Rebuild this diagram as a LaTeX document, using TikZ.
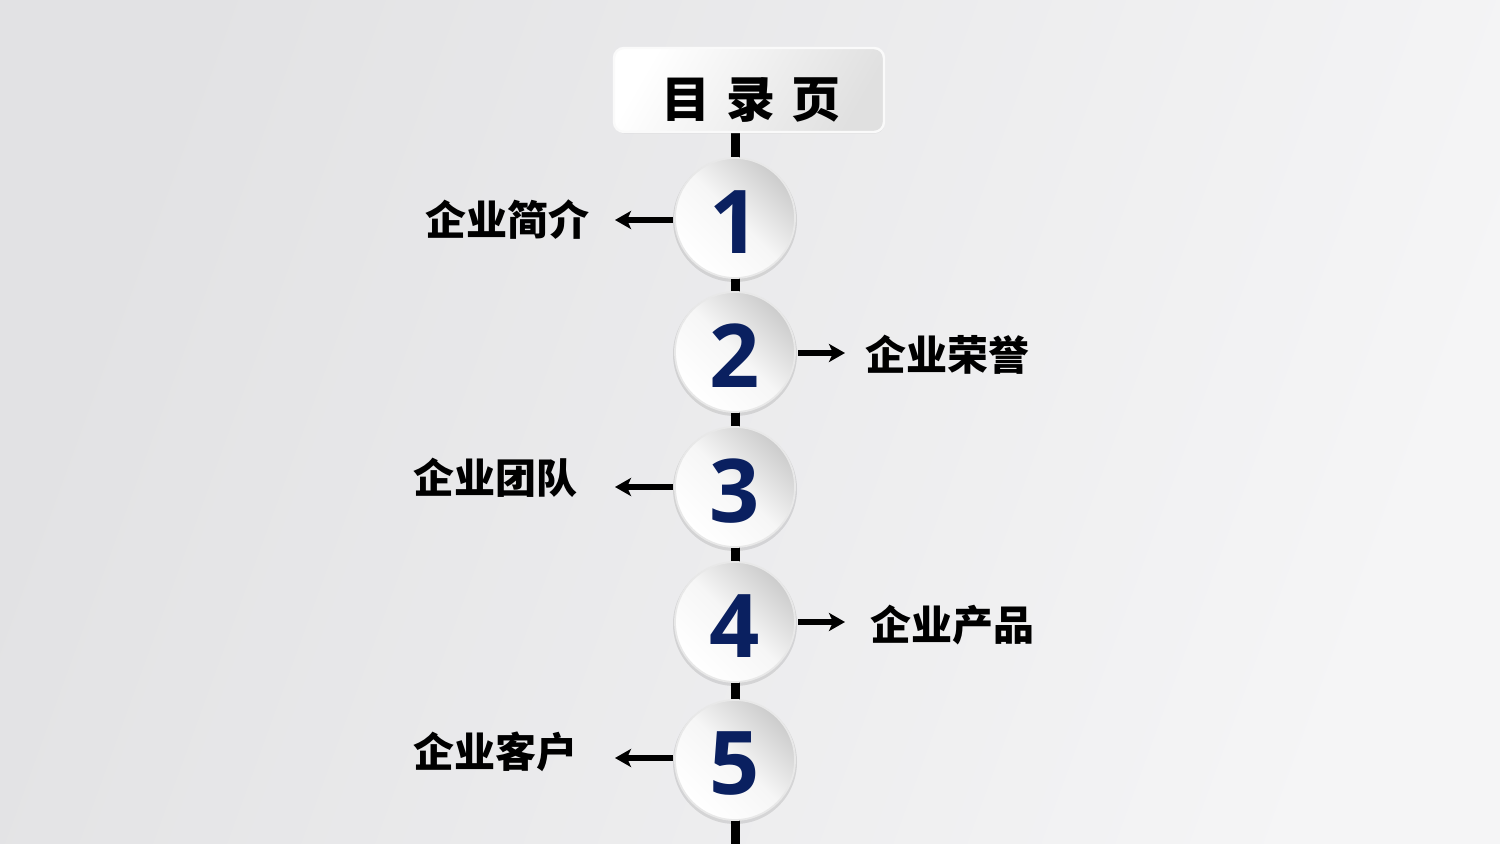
\documentclass[tikz,border=0pt]{standalone}
\usepackage{fontspec}
\newfontfamily\cjk{Noto Sans CJK SC}
\newfontfamily\numfont{Open Sans}
\usetikzlibrary{arrows.meta,shadows}
\definecolor{navy}{RGB}{10,32,96}
\definecolor{bgL}{RGB}{226,226,228}
\definecolor{bgR}{RGB}{245,245,246}
\tikzset{
  lbl/.style={font=\cjk\bfseries\fontsize{20.5}{22}\selectfont, inner sep=0pt, text=black},
  arr/.style={line width=3pt, -{Stealth[length=8pt,width=9pt,inset=2pt]}},
  spine/.style={line width=4.5pt, black},
  numtext/.style={circle, minimum size=60pt, inner sep=0pt, font=\numfont\bfseries\fontsize{44}{44}\selectfont, text=navy}
}
\begin{document}
\begin{tikzpicture}[x=0.5pt,y=-0.5pt]
\useasboundingbox (0,0) rectangle (1500,844);
\shade[left color=bgL, right color=bgR, shading angle=70] (0,0) rectangle (1500,844);
% spine
\coordinate (top) at (735,132);
\coordinate (bot) at (735,844);
\draw[spine] (top) -- (bot);
% title
\node[rounded corners=5pt, minimum width=270*0.5pt, minimum height=84*0.5pt,
  top color=white, bottom color=gray!24, shading angle=60, draw=white!96!gray, line width=1.2pt,
  drop shadow={shadow xshift=0.3pt, shadow yshift=-0.8pt, opacity=0.12}] (title) at (749,90) {};
\node[font=\cjk\bfseries\fontsize{24.5}{25}\selectfont] (ttext) at (751,100) {目\hspace{0.33em}录\hspace{0.33em}页};
% circles
\foreach \n/\y in {1/218,2/352,3/487,4/622,5/760}{
  \fill[black,opacity=0.10] (735,\y+2) circle (62*0.5pt);
  \shade[top color=white, bottom color=gray!40, middle color=white!93!gray, shading angle=135]
     (735,\y) circle (60*0.5pt);
  \draw[white!82!gray, line width=0.9pt] (735,\y) circle (60*0.5pt);
  \node[numtext] (c\n) at (735,\y+4) {\n};
}
% labels
\node[lbl, anchor=east] (l1) at (590,220) {企业简介};
\node[lbl, anchor=west] (l2) at (865,355) {企业荣誉};
\node[lbl, anchor=east] (l3) at (578,478) {企业团队};
\node[lbl, anchor=west] (l4) at (870,625) {企业产品};
\node[lbl, anchor=east] (l5) at (578,752) {企业客户};
% arrows
\coordinate (a1s) at (673,220); \coordinate (a1e) at (615,220);
\coordinate (a2s) at (798,353); \coordinate (a2e) at (845,353);
\coordinate (a3s) at (673,487); \coordinate (a3e) at (615,487);
\coordinate (a4s) at (798,622); \coordinate (a4e) at (845,622);
\coordinate (a5s) at (673,758); \coordinate (a5e) at (615,758);
\draw[arr] (a1s) -- (a1e);
\draw[arr] (a2s) -- (a2e);
\draw[arr] (a3s) -- (a3e);
\draw[arr] (a4s) -- (a4e);
\draw[arr] (a5s) -- (a5e);
\end{tikzpicture}
\end{document}
